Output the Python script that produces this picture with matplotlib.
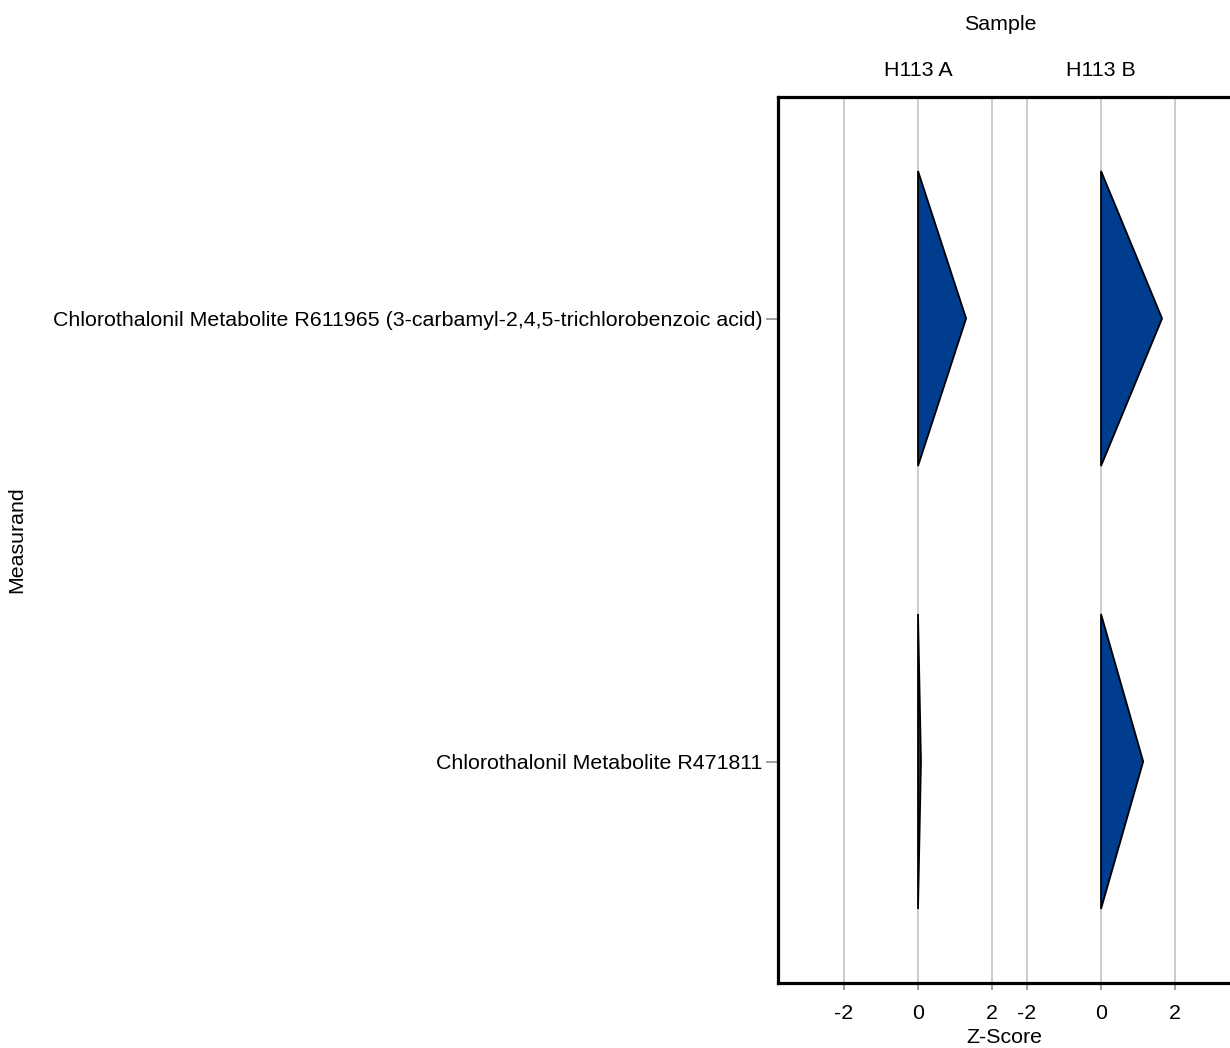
import matplotlib
matplotlib.use("Agg")
import matplotlib.pyplot as plt

plt.rcParams['font.family'] = ['Liberation Sans', 'DejaVu Sans']

# data
samples = ["H113 A", "H113 B"]
measurands = ["Chlorothalonil Metabolite R611965 (3-carbamyl-2,4,5-trichlorobenzoic acid)",
              "Chlorothalonil Metabolite R471811"]
# z-scores per sample, same order as measurands
zscores = {"H113 A": [1.30, 0.08],
           "H113 B": [1.65, 1.14]}
ticks = [-2, 0, 2]

# layout: each facet is shifted along one shared x axis
offset = 4.946
xmin, xmax = -3.784, 8.432
half = 0.333  # half height of each triangle in band units
fs = 15.4

fig = plt.figure(figsize=(12.3, 10.48), dpi=100)
ax = fig.add_axes([778/1230, 65/1048, 1 - 778/1230, (983-97)/1048])
ax.set_xlim(xmin, xmax)
ax.set_ylim(len(measurands), 0)

tickpos, ticklab = [], []
for k, s in enumerate(samples):
    off = k*offset
    for t in ticks:
        tickpos.append(t + off)
        ticklab.append(str(t))
        ax.axvline(t + off, color='#c8c8c8', lw=1.3, zorder=0)
    for i, z in enumerate(zscores[s]):
        yc = i + 0.5
        ax.fill([off, off + z, off], [yc - half, yc, yc + half],
                facecolor='#003d8f', edgecolor='black', lw=1.3, zorder=2)
    # facet header
    fig.text((918 + off*37)/1230, 1 - 70/1048, s,
             ha='center', va='center', fontsize=fs)

ax.set_xticks(tickpos)
ax.set_xticklabels(ticklab, fontsize=fs)
ax.set_yticks([i + 0.5 for i in range(len(measurands))])
ax.set_yticklabels(measurands, fontsize=fs)
ax.tick_params(axis='x', length=5, width=1.3, color='#999999', pad=10)
ax.tick_params(axis='y', length=9, width=1.3, color='#999999', pad=2)

for side in ['left', 'top', 'bottom']:
    ax.spines[side].set_linewidth(2.3)
    ax.spines[side].set_color('black')
ax.spines['right'].set_visible(False)

ax.set_xlabel("Z-Score", fontsize=fs, labelpad=4)
fig.text(1000/1230, 1 - 25/1048, "Sample", ha='center', va='center', fontsize=fs)
fig.text(17/1230, 1 - 540/1048, "Measurand", ha='center', va='center',
         rotation=90, fontsize=fs)

fig.savefig("out.png", dpi=100)
